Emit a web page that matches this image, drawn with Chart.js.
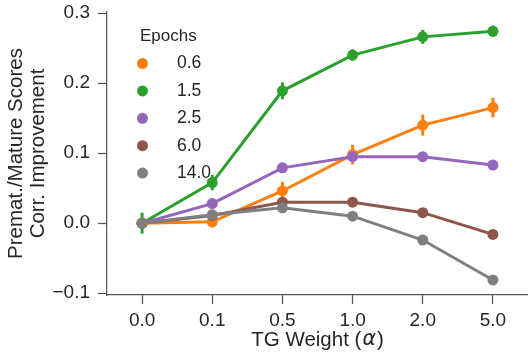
<!DOCTYPE html>
<html>
<head>
<meta charset="utf-8">
<script src="https://cdn.jsdelivr.net/npm/chart.js@4.4.1/dist/chart.umd.min.js"></script>
<style>
  html, body { margin: 0; padding: 0; background: #fff; overflow: hidden; }
  canvas { display: block; }
</style>
</head>
<body>
<canvas id="myChart" width="528" height="352"></canvas>
<script>
//data block
const alphas = ['0.0', '0.1', '0.5', '1.0', '2.0', '5.0'];
const epochs = ['0.6', '1.5', '2.5', '6.0', '14.0'];
const yTicks = [-0.1, 0.0, 0.1, 0.2, 0.3];

const ep06 = [0.000, 0.002, 0.046, 0.098, 0.140, 0.165];
const ep15 = [0.000, 0.058, 0.189, 0.240, 0.266, 0.274];
const ep25 = [0.000, 0.028, 0.079, 0.095, 0.095, 0.083];
const ep60 = [0.000, 0.011, 0.030, 0.030, 0.015, -0.016];
const ep140 = [0.000, 0.012, 0.022, 0.010, -0.024, -0.081];

// half-length of the error bars
const err06 = [0.003, 0.008, 0.013, 0.014, 0.015, 0.014];
const err15 = [0.015, 0.011, 0.012, 0.008, 0.010, 0.008];
const err25 = [0.002, 0.003, 0.003, 0.003, 0.003, 0.003];
const err60 = [0.002, 0.002, 0.002, 0.002, 0.002, 0.002];
const err140 = [0.002, 0.002, 0.002, 0.002, 0.002, 0.003];

const colors = ['#ff7f0e', '#2ca02c', '#9467bd', '#8c564b', '#7f7f7f'];
const series = [ep06, ep15, ep25, ep60, ep140];
const errors = [err06, err15, err25, err60, err140];

const textColor = '#262626';
const axisColor = '#555555';
const fontFamily = "'Liberation Sans', Arial, sans-serif";

//datasets
const datasets = epochs.map((ep, i) => ({
  label: ep,
  data: series[i],
  err: errors[i],
  borderColor: colors[i],
  backgroundColor: colors[i],
  borderWidth: 3,
  pointRadius: 5.5,
  pointBorderWidth: 0,
  pointHoverRadius: 5.5,
  tension: 0,
  order: epochs.length - 1 - i
}));

//error bars, drawn just before each line
const errorBars = {
  id: 'errorBars',
  beforeDatasetDraw(chart, args) {
    const {ctx, scales: {x, y}} = chart;
    const ds = chart.data.datasets[args.index];
    ctx.save();
    ctx.strokeStyle = ds.borderColor;
    ctx.lineWidth = 3;
    ds.data.forEach((v, j) => {
      const px = x.getPixelForValue(j);
      ctx.beginPath();
      ctx.moveTo(px, y.getPixelForValue(v - ds.err[j]));
      ctx.lineTo(px, y.getPixelForValue(v + ds.err[j]));
      ctx.stroke();
    });
    ctx.restore();
  }
};

//legend + x title
const extras = {
  id: 'extras',
  afterDraw(chart) {
    const {ctx, chartArea: {left, right}} = chart;
    ctx.save();
    ctx.fillStyle = textColor;
    ctx.textBaseline = 'middle';
    ctx.textAlign = 'left';
    ctx.font = `17px ${fontFamily}`;
    ctx.fillText('Epochs', 140, 36);
    ctx.font = `17.5px ${fontFamily}`;
    epochs.forEach((ep, i) => {
      const cy = 63.5 + i * 27.4;
      ctx.fillStyle = colors[i];
      ctx.beginPath();
      ctx.arc(142.5, cy, 5.5, 0, Math.PI * 2);
      ctx.fill();
      ctx.fillStyle = textColor;
      ctx.fillText(ep, 177, cy);
    });

    // x axis title with italic alpha
    const a = 'TG Weight (';
    const b = '\u03b1';
    const c = ')';
    const fNorm = `20.5px ${fontFamily}`;
    const fIt = `italic 20.5px 'DejaVu Sans', ${fontFamily}`;
    ctx.font = fNorm;
    const wa = ctx.measureText(a).width;
    const wc = ctx.measureText(c).width;
    ctx.font = fIt;
    const wb = ctx.measureText(b).width + 2;
    let tx = (left + right) / 2 - (wa + wb + wc) / 2;
    const ty = 340;
    ctx.font = fNorm;
    ctx.fillText(a, tx, ty);
    ctx.font = fIt;
    ctx.fillText(b, tx + wa + 1, ty);
    ctx.font = fNorm;
    ctx.fillText(c, tx + wa + wb, ty);
    ctx.restore();
  }
};

const options = {
  responsive: false,
  animation: false,
  layout: { autoPadding: false, padding: { left: 5, top: 12, right: 0, bottom: 0 } },
  plugins: {
    legend: { display: false },
    tooltip: { enabled: false }
  },
  scales: {
    x: {
      type: 'category',
      labels: alphas,
      offset: true,
      afterFit(scale) {
        scale.height = 57;
        scale.paddingLeft = 0;
        scale.paddingRight = 0;
      },
      grid: {
        offset: false,
        drawOnChartArea: false,
        drawTicks: true,
        tickLength: 9,
        tickWidth: 1.25,
        tickColor: axisColor
      },
      border: { display: true, color: axisColor, width: 1.25 },
      ticks: {
        color: textColor,
        padding: 5,
        maxRotation: 0,
        font: { family: fontFamily, size: 19 }
      }
    },
    y: {
      min: -0.1025,
      max: 0.3015,
      afterFit(scale) {
        scale.width = 102;
        scale.paddingTop = 0;
        scale.paddingBottom = 0;
      },
      afterBuildTicks(scale) {
        scale.ticks = yTicks.map(v => ({ value: v }));
      },
      grid: {
        drawOnChartArea: false,
        drawTicks: true,
        tickLength: 9,
        tickWidth: 1.25,
        tickColor: axisColor
      },
      border: { display: true, color: axisColor, width: 1.25 },
      ticks: {
        color: textColor,
        padding: 8,
        font: { family: fontFamily, size: 19 },
        callback: (v) => Number(v).toFixed(1).replace('-', '\u2212')
      },
      title: {
        display: true,
        text: ['Premat./Mature Scores', 'Corr. Improvement'],
        color: textColor,
        padding: 0,
        font: { family: fontFamily, size: 20.5, lineHeight: 1.1 }
      }
    }
  }
};

const myChart = new Chart(document.getElementById('myChart'), {
  type: 'line',
  data: { labels: alphas, datasets },
  options,
  plugins: [errorBars, extras]
});
</script>
</body>
</html>
